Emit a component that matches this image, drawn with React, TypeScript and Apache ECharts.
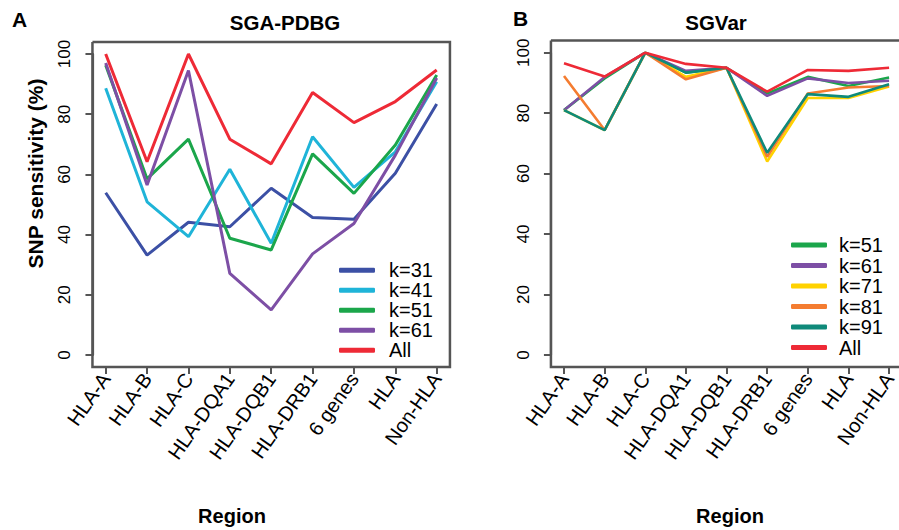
import React, { useEffect, useRef } from "react";
import * as echarts from "echarts";

const categories = ["HLA-A", "HLA-B", "HLA-C", "HLA-DQA1", "HLA-DQB1", "HLA-DRB1", "6 genes", "HLA", "Non-HLA"];
const yTicks = { min: 0, max: 100, interval: 20 };

// Panel A: SGA-PDBG
const k31A = [53.9, 33.2, 44.1, 42.6, 55.4, 45.7, 45.1, 60.4, 83.4];
const k41A = [88.6, 50.9, 39.3, 61.7, 37.1, 72.5, 55.7, 67.5, 90.8];
const k51A = [96.3, 58.5, 71.7, 38.8, 34.9, 66.8, 53.7, 69.8, 93.0];
const k61A = [97.0, 56.5, 94.5, 27.1, 15.0, 33.6, 43.7, 66.4, 92.0];
const allA = [100, 64.2, 100, 71.7, 63.5, 87.2, 77.2, 84.2, 94.7];

// Panel B: SGVar
const k51B = [81.0, 91.5, 100, 93.4, 95.0, 86.5, 92.0, 89.0, 91.8];
const k61B = [81.0, 92.0, 100, 94.0, 95.0, 85.7, 91.5, 90.0, 90.7];
const k71B = [81.0, 74.4, 100, 92.0, 95.0, 64.0, 85.0, 85.0, 88.8];
const k81B = [92.3, 74.4, 100, 91.2, 95.0, 65.6, 86.5, 88.5, 89.0];
const k91B = [81.0, 74.4, 100, 93.4, 95.0, 66.9, 86.3, 85.4, 89.6];
const allB = [96.5, 92.1, 100, 96.3, 95.0, 87.1, 94.3, 94.0, 95.0];

const seriesA = [
  { name: "k=31", data: k31A, color: "#3c50a5" },
  { name: "k=41", data: k41A, color: "#1fb4d8" },
  { name: "k=51", data: k51A, color: "#1ba64b" },
  { name: "k=61", data: k61A, color: "#7d4fa5" },
  { name: "All", data: allA, color: "#ee2a36" },
];
const seriesB = [
  { name: "k=51", data: k51B, color: "#1ba64b" },
  { name: "k=61", data: k61B, color: "#7d4fa5" },
  { name: "k=71", data: k71B, color: "#ffd200" },
  { name: "k=81", data: k81B, color: "#f47c30" },
  { name: "k=91", data: k91B, color: "#0f8a7a" },
  { name: "All", data: allB, color: "#ee2a36" },
];

const SANS = '"Liberation Sans", Arial, Helvetica, sans-serif';
const NARROW = '"Liberation Sans Narrow", "Liberation Sans", Arial, sans-serif';
const INK = "#555555";

const grids = [
  { left: 105.7, top: 54, width: 331, height: 301 },
  { left: 564, top: 52.7, width: 326.7, height: 302.3 },
];

export default function App() {
  const ref = useRef<HTMLDivElement>(null);
  useEffect(() => {
    if (!ref.current) return;
    const chart = echarts.init(ref.current, null, { renderer: "svg" });

    const xAxes = grids.map((g, i) => ({
      type: "category",
      gridIndex: i,
      data: categories,
      boundaryGap: false,
      offset: 0.04 * g.height,
      axisLine: { show: true, onZero: false, lineStyle: { color: INK, width: 2.2 } },
      axisTick: { show: true, length: 7, inside: false, lineStyle: { color: INK, width: 2 }, interval: 0 },
      axisLabel: { interval: 0, rotate: 55, margin: 8, fontSize: 20, color: "#000", fontFamily: SANS },
      splitLine: { show: false },
    }));
    const yAxes = grids.map((g, i) => ({
      type: "value",
      gridIndex: i,
      min: yTicks.min,
      max: yTicks.max,
      interval: yTicks.interval,
      offset: 0.04 * g.width,
      axisLine: { show: true, onZero: false, lineStyle: { color: INK, width: 2.2 } },
      axisTick: { show: true, length: 7, inside: false, lineStyle: { color: INK, width: 2 } },
      axisLabel: { rotate: 90, margin: 19, fontSize: 17, color: "#000", fontFamily: NARROW },
      splitLine: { show: false },
    }));

    const mk = (s: any, idx: number) => ({
      type: "line",
      name: s.name,
      xAxisIndex: idx,
      yAxisIndex: idx,
      data: s.data,
      symbol: "none",
      showSymbol: false,
      color: s.color,
      lineStyle: { color: s.color, width: idx === 0 ? 3 : 2.6 },
      emphasis: { disabled: true },
    });

    const boxes = grids.map((g) => {
      const x0 = g.left - 0.04 * g.width;
      const y0 = g.top - 0.04 * g.height;
      const x1 = g.left + g.width * 1.04;
      const y1 = g.top + g.height * 1.04;
      return {
        type: "polyline",
        shape: { points: [[x0, y0], [x1, y0], [x1, y1], [x0, y1], [x0, y0]] },
        style: { stroke: INK, lineWidth: 2.5 },
      };
    });

    const texts: any[] = [
      { x: 12, y: 19.5, text: "A", fontSize: 21 },
      { x: 513, y: 18.5, text: "B", fontSize: 21 },
      { x: 285, y: 22, text: "SGA-PDBG", fontSize: 20.5, align: "center" },
      { x: 716, y: 22, text: "SGVar", fontSize: 20.5, align: "center" },
      { x: 232, y: 516, text: "Region", fontSize: 20, align: "center" },
      { x: 730, y: 516, text: "Region", fontSize: 20, align: "center" },
    ].map((t) => ({
      type: "text",
      x: t.x,
      y: t.y,
      style: {
        text: t.text,
        fontSize: t.fontSize,
        fontWeight: "bold",
        fontFamily: SANS,
        fill: "#000",
        align: t.align || "left",
        verticalAlign: "middle",
      },
    }));
    texts.push({
      type: "text",
      x: 35,
      y: 173.5,
      rotation: Math.PI / 2,
      style: {
        text: "SNP sensitivity (%)",
        fontSize: 21,
        fontWeight: "bold",
        fontFamily: SANS,
        fill: "#000",
        align: "center",
        verticalAlign: "middle",
      },
    });

    const legendCommon = {
      orient: "vertical",
      icon: "roundRect",
      itemWidth: 36,
      itemHeight: 5,
      itemGap: 0,
      selectedMode: false,
      padding: 0,
    };

    chart.setOption({
      animation: false,
      backgroundColor: "#fff",
      grid: grids,
      xAxis: xAxes,
      yAxis: yAxes,
      legend: [
        {
          ...legendCommon,
          data: seriesA.map((s) => s.name),
          left: 339,
          top: 260.2,
          textStyle: { fontSize: 20, lineHeight: 19.5, color: "#000", fontFamily: SANS, padding: [0, 0, 0, 9] },
        },
        {
          ...legendCommon,
          data: seriesB.map((s) => s.name),
          left: 791,
          top: 234.8,
          textStyle: { fontSize: 20, lineHeight: 20.5, color: "#000", fontFamily: SANS, padding: [0, 0, 0, 7] },
        },
      ],
      series: [...seriesA.map((s) => mk(s, 0)), ...seriesB.map((s) => mk(s, 1))],
      graphic: { elements: [...boxes, ...texts] },
    });
    return () => chart.dispose();
  }, []);
  return <div ref={ref} style={{ position: "absolute", left: 0, top: 0, width: 899, height: 530 }} />;
}
